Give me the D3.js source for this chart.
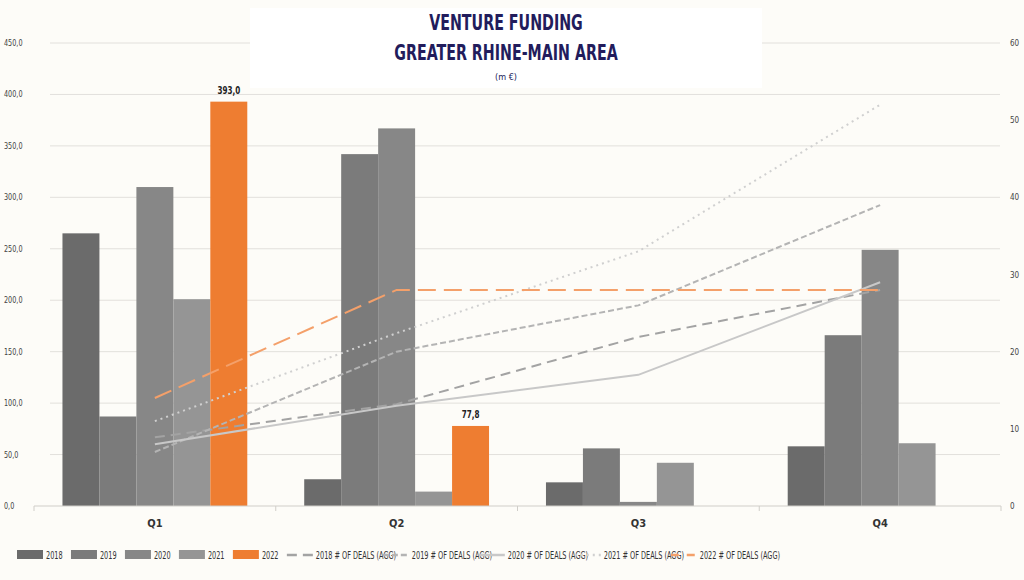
<!DOCTYPE html>
<html><head><meta charset="utf-8">
<script src="https://cdn.jsdelivr.net/npm/d3@7"></script>
<style>body{margin:0;background:#fdfcf8;}svg{display:block;font-family:"Liberation Sans Narrow","DejaVu Sans Condensed",sans-serif;}</style>
</head><body><svg id="c" width="1024" height="580"></svg>
<script>
const quarters = ['Q1', 'Q2', 'Q3', 'Q4'];
const years = ['2018', '2019', '2020', '2021', '2022'];
const funding = {
  '2018': [265, 26, 23, 58],
  '2019': [87, 342, 56, 166],
  '2020': [310, 367, 4, 249],
  '2021': [201, 14, 42, 61],
  '2022': [393, 77.8, 0, 0]
};
const deals = {
  '2018': [8.9, 13.2, 21.9, 28],
  '2019': [7, 20, 26, 39],
  '2020': [8, 13, 17, 29],
  '2021': [11, 22.4, 33, 52],
  '2022': [14, 28, 28, 28]
};
const leftTicks = d3.range(0, 451, 50);
const rightTicks = d3.range(0, 61, 10);

const barColor = { '2018': '#6b6b6b', '2019': '#7b7b7b', '2020': '#878787', '2021': '#959595', '2022': '#ee7d31' };
const lineStyle = {
  '2018': { c: '#a3a3a3', d: '10,6', w: 2 },
  '2019': { c: '#b4b4b4', d: '6,3', w: 2 },
  '2020': { c: '#c8c8c8', d: null, w: 2 },
  '2021': { c: '#d0d0d0', d: '2,4', w: 2 },
  '2022': { c: '#f4a06a', d: '18,8', w: 2 }
};

// squeeze text to look condensed
function condense(sel, k) {
  sel.each(function() {
    const n = this.getComputedTextLength();
    d3.select(this).attr('textLength', n * k).attr('lengthAdjust', 'spacingAndGlyphs');
  });
  return sel;
}

const svg = d3.select('#c');
const L = 34, R = 1001, T = 43, B = 506;
const x = d3.scaleBand().domain(quarters).range([L, R]);
const xb = d3.scaleBand().domain(years).range([0, x.bandwidth()]).paddingOuter(0.77).paddingInner(0);
const y = d3.scaleLinear().domain([0, 450]).range([B, T]);
const y2 = d3.scaleLinear().domain([0, 60]).range([B, T]);

// grid
svg.append('g').selectAll('line').data(leftTicks.slice(1)).join('line')
  .attr('x1', 50).attr('x2', 1000).attr('y1', d => y(d)).attr('y2', d => y(d))
  .attr('stroke', '#e2e0dc').attr('stroke-width', 1);

condense(svg.append('g').selectAll('text').data(leftTicks).join('text')
  .attr('x', 4).attr('y', d => y(d) + 3).attr('font-size', 9).attr('fill', '#444')
  .text(d => d3.format('.1f')(d).replace('.', ',')), 0.8);
svg.append('g').selectAll('text').data(rightTicks).join('text')
  .attr('x', 1010).attr('y', d => y2(d) + 3).attr('font-size', 8).attr('fill', '#444')
  .text(d => d);

// title box
svg.append('rect').attr('x', 250).attr('y', 8).attr('width', 512).attr('height', 80).attr('fill', '#ffffff');
condense(svg.append('text').attr('x', 506).attr('y', 30).attr('text-anchor', 'middle').attr('font-size', 22)
  .attr('font-weight', 'bold').attr('fill', '#221c5c').text('VENTURE FUNDING'), 0.72);
condense(svg.append('text').attr('x', 506).attr('y', 60).attr('text-anchor', 'middle').attr('font-size', 22)
  .attr('font-weight', 'bold').attr('fill', '#221c5c').text('GREATER RHINE-MAIN AREA'), 0.72);
svg.append('text').attr('x', 506).attr('y', 80).attr('text-anchor', 'middle').attr('font-size', 9)
  .attr('fill', '#221c5c').text('(m €)');

// bars
const g = svg.append('g');
quarters.forEach((q, qi) => {
  years.forEach(yr => {
    const v = funding[yr][qi];
    if (!v) return;
    g.append('rect').attr('x', x(q) + xb(yr)).attr('width', xb.bandwidth())
      .attr('y', y(v)).attr('height', B - y(v)).attr('fill', barColor[yr]);
  });
  const v = funding['2022'][qi];
  if (v) condense(g.append('text').attr('x', x(q) + xb('2022') + xb.bandwidth() / 2).attr('y', y(v) - 8)
    .attr('text-anchor', 'middle').attr('font-size', 10).attr('font-weight', 'bold').attr('fill', '#222')
    .text(d3.format('.1f')(v).replace('.', ',')), 0.8);
});

// x axis
svg.append('line').attr('x1', L).attr('x2', R).attr('y1', B).attr('y2', B).attr('stroke', '#d0cec9');
svg.append('g').selectAll('line').data(d3.range(5)).join('line')
  .attr('x1', i => L + i * x.bandwidth()).attr('x2', i => L + i * x.bandwidth())
  .attr('y1', B).attr('y2', B + 5).attr('stroke', '#d0cec9');
svg.append('g').selectAll('text').data(quarters).join('text')
  .attr('x', d => x(d) + x.bandwidth() / 2).attr('y', 527).attr('text-anchor', 'middle')
  .attr('font-size', 11).attr('font-weight', 'bold').attr('fill', '#333').text(d => d);

// lines
const line = d3.line().x((d, i) => x(quarters[i]) + x.bandwidth() / 2).y(d => y2(d));
years.forEach(yr => {
  const s = lineStyle[yr];
  svg.append('path').datum(deals[yr]).attr('d', line).attr('fill', 'none')
    .attr('stroke', s.c).attr('stroke-width', s.w).attr('stroke-dasharray', s.d);
});

// legend
const items = years.map(yr => ({ t: yr, bar: true, yr }))
  .concat(years.map(yr => ({ t: yr + ' # OF DEALS (AGG)', bar: false, yr })));
const lg = svg.append('g').attr('transform', 'translate(17,555)');
let lx = 0;
items.forEach(it => {
  if (it.bar) {
    lg.append('rect').attr('x', lx).attr('y', -5).attr('width', 26).attr('height', 9).attr('fill', barColor[it.yr]);
  } else {
    const s = lineStyle[it.yr];
    lg.append('line').attr('x1', lx).attr('x2', lx + 26).attr('y1', 0).attr('y2', 0)
      .attr('stroke', s.c).attr('stroke-width', 2.5).attr('stroke-dasharray', s.d ? (it.yr === '2022' ? '8,8' : s.d) : null);
  }
  const t = lg.append('text').attr('x', lx + 29).attr('y', 4).attr('font-size', 11).attr('fill', '#333').text(it.t);
  condense(t, 0.66);
  lx += 29 + t.node().getComputedTextLength() * 0.66 + 14;
});
</script></body></html>
